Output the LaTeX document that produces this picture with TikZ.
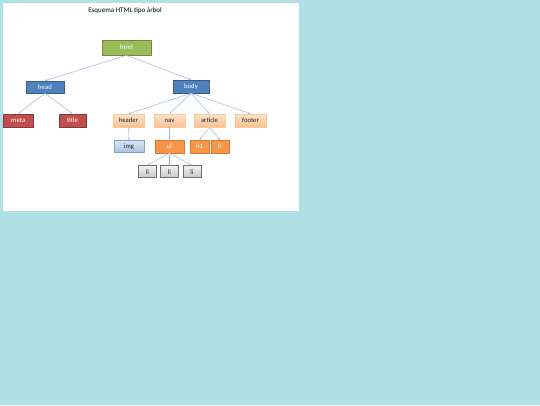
\documentclass[tikz,border=0pt]{standalone}
\usepackage{fontspec}
\setmainfont{Carlito}
\usetikzlibrary{arrows.meta}
\definecolor{bgc}{HTML}{B0E0E6}
\definecolor{edgec}{HTML}{9DB9DE}
\definecolor{grf}{HTML}{9BBB59}\definecolor{grd}{HTML}{71893F}
\definecolor{blf}{HTML}{4F81BD}\definecolor{bld}{HTML}{385D8A}
\definecolor{rdf}{HTML}{C0504D}\definecolor{rdd}{HTML}{8C3836}
\definecolor{pkt}{HTML}{FDE3CC}\definecolor{pkb}{HTML}{FAC090}\definecolor{pkd}{HTML}{F9C89B}
\definecolor{lbt}{HTML}{DCE6F4}\definecolor{lbb}{HTML}{A6C1E3}\definecolor{lbd}{HTML}{7EA0CF}
\definecolor{orf}{HTML}{F79646}\definecolor{ord}{HTML}{D9782E}
\definecolor{gyt}{HTML}{F0F0F0}\definecolor{gyb}{HTML}{C8C8C8}\definecolor{gyd}{HTML}{6F6F6F}
\definecolor{dtx}{HTML}{262626}
\tikzset{
  box/.style={draw, line width=0.5pt, rectangle, inner sep=0pt, font=\fontsize{6.7}{7}\selectfont},
  grbox/.style={box, fill=grf, draw=grd, text=white},
  blbox/.style={box, fill=blf, draw=bld, text=white},
  rdbox/.style={box, fill=rdf, draw=rdd, text=white},
  pkbox/.style={box, top color=pkt, bottom color=pkb, draw=pkd, text=dtx, minimum width=31pt, minimum height=13pt},
  lbbox/.style={box, top color=lbt, bottom color=lbb, draw=lbd, text=dtx},
  orbox/.style={box, fill=orf, draw=ord, text=white, minimum height=12.5pt},
  gybox/.style={box, line width=0.7pt, top color=gyt, bottom color=gyb, draw=gyd, text=dtx, minimum width=18pt, minimum height=12pt},
  link/.style={draw=edgec, line width=0.5pt, -{Stealth[length=2.5pt,width=2pt]}},
}
\begin{document}
\begin{tikzpicture}[x=1pt, y=-1pt]
\useasboundingbox (0,0) rectangle (540,405);
\fill[bgc] (0,0) rectangle (540,405);
\fill[white] (3,3) rectangle (299,211);
\node[font=\fontsize{7}{8}\selectfont, text=black] (ttl) at (125,11) {Esquema HTML tipo árbol};
\node[grbox, minimum width=49pt, minimum height=15pt] (html) at (126.5,47.5) {html};
\node[blbox, minimum width=38pt, minimum height=12pt] (head) at (45,87) {head};
\node[blbox, minimum width=36pt, minimum height=13pt] (body) at (191,86.5) {body};
\node[rdbox, minimum width=29.5pt, minimum height=13pt] (meta) at (18.2,120.5) {meta};
\node[rdbox, minimum width=27pt, minimum height=13pt] (title) at (72.5,120.5) {title};
\node[pkbox] (header) at (128.5,120.5) {header};
\node[pkbox] (nav) at (169.5,120.5) {nav};
\node[pkbox] (article) at (209.5,120.5) {article};
\node[pkbox] (footer) at (250.5,120.5) {footer};
\node[lbbox, minimum width=30pt, minimum height=12pt] (img) at (129,146.5) {img};
\node[orbox, minimum width=29pt] (ul) at (169.5,146.5) {ul};
\node[orbox, minimum width=18.5pt] (h1) at (199.5,146.5) {h1};
\node[orbox, minimum width=18.5pt] (p) at (220,146.5) {p};
\node[gybox] (li1) at (147.5,171.7) {li};
\node[gybox] (li2) at (169.5,171.7) {li};
\node[gybox] (li3) at (192,171.7) {li};
\foreach \a/\b in {html/head, html/body, head/meta, head/title, body/header, body/nav, body/article, body/footer, header/img, nav/ul, article/h1, article/p, ul/li1, ul/li2, ul/li3}
  \draw[link] (\a.south) -- (\b.north);
\end{tikzpicture}
\end{document}
